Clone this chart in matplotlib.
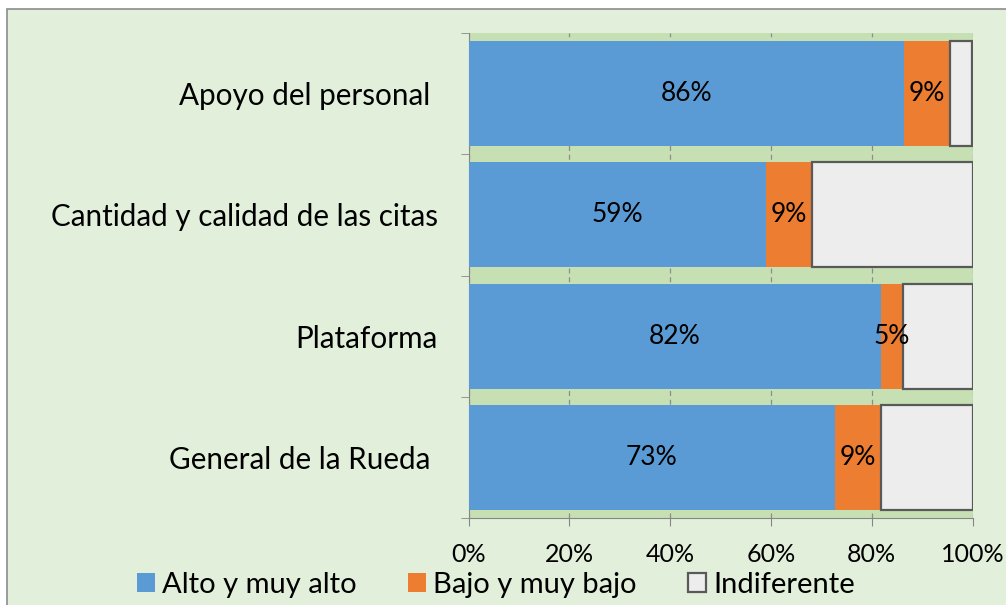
import matplotlib
matplotlib.use("Agg")
import matplotlib.pyplot as plt
from matplotlib.patches import Rectangle
import numpy as np

plt.rcParams['font.family'] = ['Lato', 'DejaVu Sans']

categorias = ['Apoyo del personal ', 'Cantidad y calidad de las citas',
              'Plataforma', 'General de la Rueda ']
alto = [86.4, 59.1, 81.8, 72.7]
bajo = [9.1, 9.1, 4.5, 9.1]
indiferente = [4.5, 31.8, 13.7, 18.2]
series = ['Alto y muy alto', 'Bajo y muy bajo', 'Indiferente']

fig_bg = '#E2EFDA'
fig = plt.figure(figsize=(10.06, 6.05), dpi=100, facecolor='white')

# outer frame of the chart area (continues past right/bottom edges)
fig.patches.append(Rectangle((7 / 1006, -0.1), 1.2, 1 - 9 / 605 + 0.1,
                             transform=fig.transFigure, facecolor=fig_bg,
                             edgecolor='#8C8C8C', lw=1.2, zorder=-5))

ax = fig.add_axes([468.5 / 1006, 87 / 605, 504 / 1006, 485 / 605])
ax.set_zorder(2)
ax.set_facecolor('#C6E0B4')

y = np.arange(len(categorias))
h = 0.866
left = np.zeros(len(categorias))
b1 = ax.barh(y, alto, height=h, left=left, color='#5B9BD5', label=series[0], zorder=3)
left += alto
b2 = ax.barh(y, bajo, height=h, left=left, color='#ED7D31', label=series[1], zorder=3)
left += bajo
b3 = ax.barh(y, indiferente, height=h, left=left, color='#EDEDED',
             edgecolor='#595959', linewidth=1.6, label=series[2], zorder=3)

for bars, vals in [(b1, alto), (b2, bajo)]:
    for r, v in zip(bars, vals):
        ax.text(r.get_x() + r.get_width() / 2, r.get_y() + r.get_height() / 2,
                f'{int(np.floor(v + 0.5))}%', ha='center', va='center',
                fontsize=19, zorder=4)

ax.set_xlim(0, 100)
ax.set_ylim(len(categorias) - 0.5, -0.5)
ax.set_xticks(np.arange(0, 101, 20))
ax.set_xticklabels([f'{t}%' for t in range(0, 101, 20)])
ax.set_yticks(y)
ax.set_yticklabels(categorias)
ax.set_yticks(np.arange(-0.5, len(categorias), 1), minor=True)
ax.tick_params(axis='y', which='major', length=0, pad=22, labelsize=21.3)
ax.tick_params(axis='y', which='minor', length=6, color='#868686')
ax.tick_params(axis='x', length=6, color='#868686', pad=12, labelsize=18)
ax.grid(axis='x', linestyle=(0, (4, 3)), color='#8C8C8C', lw=0.9, zorder=1)

for s in ['top', 'right']:
    ax.spines[s].set_visible(False)
for s in ['left', 'bottom']:
    ax.spines[s].set_color('#868686')

fig.legend(handles=[b1, b2, b3], labels=series, loc='center', ncol=3,
           bbox_to_anchor=(496 / 1006, 1 - 585 / 605), frameon=False,
           fontsize=21, handlelength=0.62, handleheight=0.62,
           handletextpad=0.25, columnspacing=1.75)

fig.savefig('out.png', dpi=100, facecolor='white')
